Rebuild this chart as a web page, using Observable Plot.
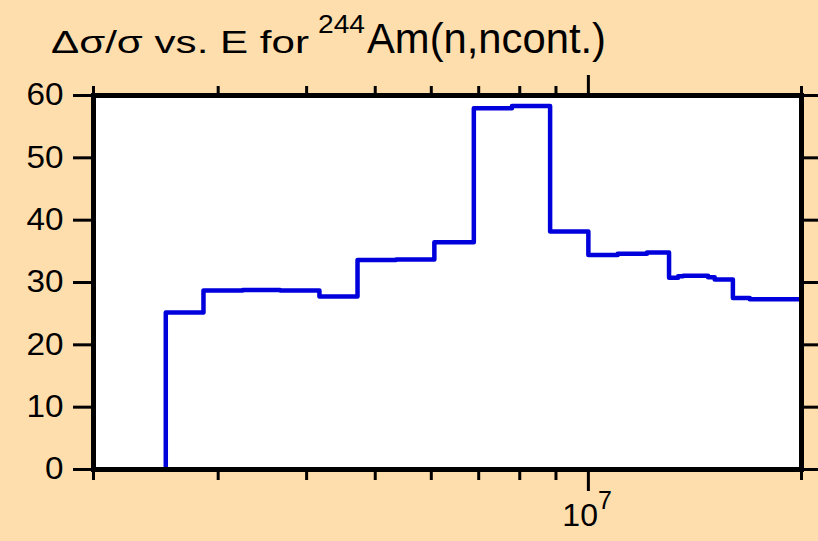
<!DOCTYPE html>
<html>
<head>
<meta charset="utf-8">
<script src="https://cdn.jsdelivr.net/npm/d3@7"></script>
<script src="https://cdn.jsdelivr.net/npm/@observablehq/plot@0.6"></script>
<style>
  html, body { margin: 0; padding: 0; background: #FFDEAD; }
  #chart { width: 818px; height: 541px; }
</style>
</head>
<body>
<div id="chart"></div>
<script>
// Bin edges (eV) and relative uncertainty values (%) per bin
const binEdges = [2.53e6, 2.86e6, 3.25e6, 3.67e6, 4.17e6, 4.72e6, 5.35e6, 6.06e6, 6.89e6, 7.80e6, 8.83e6,
                  1.0e7, 1.10e7, 1.21e7, 1.30e7, 1.339e7, 1.361e7, 1.476e7, 1.508e7, 1.60e7, 1.69e7, 2.0e7];
const binValues = [25.2, 28.7, 28.8, 28.7, 27.75, 33.6, 33.7, 36.45, 57.95, 58.3, 38.2,
                   34.4, 34.6, 34.8, 30.75, 31.0, 31.1, 30.85, 30.5, 27.5, 27.3];
const yTicks = [0, 10, 20, 30, 40, 50, 60];
const xMinorTicks = [2e6, 3e6, 4e6, 5e6, 6e6, 7e6, 8e6, 9e6, 2e7];
const xMajorTicks = [1e7];
const titleMain = "\u0394\u03c3/\u03c3 vs. E for";
const titleSup = "244";
const titleRest = "Am(n,ncont.)";

// Build step table
const pts = [{e: binEdges[0], v: 0}];
binValues.forEach((v, i) => pts.push({e: binEdges[i], v}));
pts.push({e: binEdges[binEdges.length - 1], v: binValues[binValues.length - 1]});
pts.push({e: binEdges[binEdges.length - 1], v: 0});

const font = "'Liberation Sans', Arial, Helvetica, sans-serif";
const blank = () => "";

const chart = Plot.plot({
  width: 818, height: 541,
  marginLeft: 93, marginRight: 17, marginTop: 95, marginBottom: 72,
  style: {background: "transparent", fontFamily: font, fontSize: "31px", color: "black", overflow: "visible"},
  x: {type: "log", domain: [2e6, 2e7]},
  y: {domain: [0, 60]},
  marks: [
    Plot.frame({fill: "white"}),
    Plot.line(pts, {x: "e", y: "v", curve: "step-after", stroke: "#0000dd", strokeWidth: 4.5}),
    Plot.frame({stroke: "black", strokeWidth: 5}),
    Plot.axisY({anchor: "left", ticks: yTicks, tickSize: 20, tickPadding: 10, strokeWidth: 3, fontSize: 31, label: null, tickFormat: d => "y" + d}),
    Plot.axisY({anchor: "right", ticks: yTicks, tickSize: 17, tickFormat: blank, strokeWidth: 3, label: null}),
    Plot.axisX({anchor: "bottom", ticks: xMinorTicks, tickSize: 11, tickFormat: blank, strokeWidth: 3, label: null}),
    Plot.axisX({anchor: "bottom", ticks: xMajorTicks, tickSize: 22, tickPadding: 12, tickFormat: () => "10^7", strokeWidth: 3, fontSize: 32, label: null}),
    Plot.axisX({anchor: "top", ticks: xMinorTicks, tickSize: 10, tickFormat: blank, strokeWidth: 3, label: null}),
    Plot.axisX({anchor: "top", ticks: xMajorTicks, tickSize: 21, tickFormat: blank, strokeWidth: 3, label: null})
  ]
});

document.getElementById("chart").appendChild(chart);
const svg = d3.select(chart);

// y tick labels: slightly wider glyphs as in the reference
svg.selectAll("text").filter(function() { return /^y\d+$/.test(this.textContent); }).each(function() {
  const s = this.textContent.slice(1);
  const t = d3.select(this);
  t.text(s).style("font-size", "31px")
    .attr("textLength", s.length * 18.5).attr("lengthAdjust", "spacingAndGlyphs");
});

// superscript exponent for the 10^7 tick label
svg.selectAll("text").filter(function() { return this.textContent === "10^7"; }).each(function() {
  const t = d3.select(this);
  t.text("").attr("text-anchor", "start").attr("dx", -26);
  t.append("tspan").style("font-size", "32px").text("10");
  t.append("tspan").attr("dy", -17).style("font-size", "25px").text("7");
});

// title (three real text pieces, sized to the reference)
const tAttrs = (sel, x, y, fs, len) => sel.attr("x", x).attr("y", y)
  .attr("text-anchor", "start").style("font-family", font).style("font-size", fs + "px")
  .attr("fill", "black").attr("textLength", len).attr("lengthAdjust", "spacingAndGlyphs");
tAttrs(svg.append("text"), 51, 53, 31, 258).text(titleMain);
tAttrs(svg.append("text"), 318, 33, 25, 47).text(titleSup);
tAttrs(svg.append("text"), 367, 53, 42, 239).text(titleRest);
</script>
</body>
</html>
